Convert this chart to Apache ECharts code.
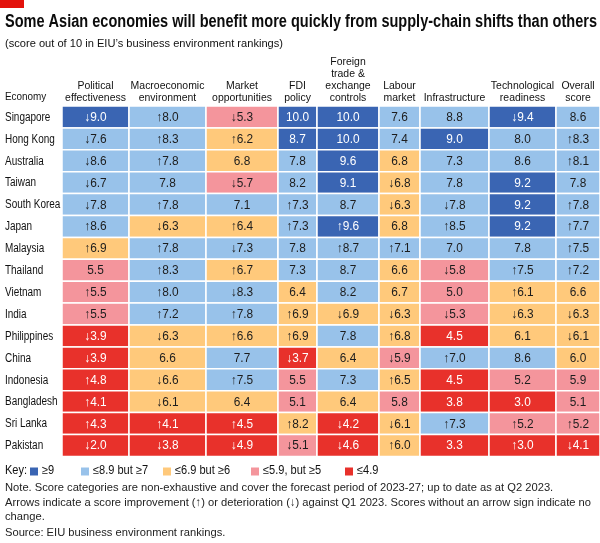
<!DOCTYPE html>
<html>
<head>
<meta charset="utf-8">
<title>Asian economies – business environment</title>
<script src="https://cdn.jsdelivr.net/npm/echarts@6/dist/echarts.min.js"></script>
<style>
    * { margin: 0; padding: 0; }
    body { background: #fff; overflow: hidden; }
    #main { width: 600px; height: 543px; }
</style>
</head>
<body>
<div id="main"></div>
<script>
    var economies = ['Singapore', 'Hong Kong', 'Australia', 'Taiwan', 'South Korea', 'Japan', 'Malaysia', 'Thailand',
        'Vietnam', 'India', 'Philippines', 'China', 'Indonesia', 'Bangladesh', 'Sri Lanka', 'Pakistan'];
    var columns = ['Political\neffectiveness', 'Macroeconomic\nenvironment', 'Market\nopportunities', 'FDI\npolicy',
        'Foreign\ntrade &\nexchange\ncontrols', 'Labour\nmarket', 'Infrastructure', 'Technological\nreadiness', 'Overall\nscore'];

    // one row per economy, same order as columns
    var scores = [
        [9.0, 8.0, 5.3, 10.0, 10.0, 7.6, 8.8, 9.4, 8.6],
        [7.6, 8.3, 6.2, 8.7, 10.0, 7.4, 9.0, 8.0, 8.3],
        [8.6, 7.8, 6.8, 7.8, 9.6, 6.8, 7.3, 8.6, 8.1],
        [6.7, 7.8, 5.7, 8.2, 9.1, 6.8, 7.8, 9.2, 7.8],
        [7.8, 7.8, 7.1, 7.3, 8.7, 6.3, 7.8, 9.2, 7.8],
        [8.6, 6.3, 6.4, 7.3, 9.6, 6.8, 8.5, 9.2, 7.7],
        [6.9, 7.8, 7.3, 7.8, 8.7, 7.1, 7.0, 7.8, 7.5],
        [5.5, 8.3, 6.7, 7.3, 8.7, 6.6, 5.8, 7.5, 7.2],
        [5.5, 8.0, 8.3, 6.4, 8.2, 6.7, 5.0, 6.1, 6.6],
        [5.5, 7.2, 7.8, 6.9, 6.9, 6.3, 5.3, 6.3, 6.3],
        [3.9, 6.3, 6.6, 6.9, 7.8, 6.8, 4.5, 6.1, 6.1],
        [3.9, 6.6, 7.7, 3.7, 6.4, 5.9, 7.0, 8.6, 6.0],
        [4.8, 6.6, 7.5, 5.5, 7.3, 6.5, 4.5, 5.2, 5.9],
        [4.1, 6.1, 6.4, 5.1, 6.4, 5.8, 3.8, 3.0, 5.1],
        [4.3, 4.1, 4.5, 8.2, 4.2, 6.1, 7.3, 5.2, 5.2],
        [2.0, 3.8, 4.9, 5.1, 4.6, 6.0, 3.3, 3.0, 4.1]
    ];
    // u = improved, d = deteriorated, '' = no change (vs Q1 2023)
    var changes = [
        ['d', 'u', 'd', '', '', '', '', 'd', ''],
        ['d', 'u', 'u', '', '', '', '', '', 'u'],
        ['d', 'u', '', '', '', '', '', '', 'u'],
        ['d', '', 'd', '', '', 'd', '', '', ''],
        ['d', 'u', '', 'u', '', 'd', 'd', '', 'u'],
        ['u', 'd', 'u', 'u', 'u', '', 'u', '', 'u'],
        ['u', 'u', 'd', '', 'u', 'u', '', '', 'u'],
        ['', 'u', 'u', '', '', '', 'd', 'u', 'u'],
        ['u', 'u', 'd', '', '', '', '', 'u', ''],
        ['u', 'u', 'u', 'u', 'd', 'd', 'd', 'd', 'd'],
        ['d', 'd', 'u', 'u', '', 'u', '', '', 'd'],
        ['d', '', '', 'd', '', 'd', 'u', '', ''],
        ['u', 'd', 'u', '', '', 'u', '', '', ''],
        ['u', 'd', '', '', '', '', '', '', ''],
        ['u', 'u', 'u', 'u', 'd', 'd', 'u', 'u', 'u'],
        ['d', 'd', 'd', 'd', 'd', 'u', '', 'u', 'd']
    ];
    var bandLabels = ['≥9', '≤8.9 but ≥7', '≤6.9 but ≥6', '≤5.9, but ≥5', '≤4.9'];
    // cells the source shades differently from what their score says: [economy, column, band]
    var bandOverrides = [['Hong Kong', 3, 0], ['Taiwan', 0, 1], ['Sri Lanka', 3, 2]];

    var bandColours = ['#3a65b3', '#98c2ea', '#ffc97b', '#f4959c', '#e8312b'];
    var FONT = "'Liberation Sans', Arial, sans-serif";
    var gridLeft = 62, gridTop = 106;
    var colWidths = [67, 77, 72, 39, 62, 41, 69, 67, 44];
    var colEdges = [0];
    colWidths.forEach(function (w, i) { colEdges.push(colEdges[i] + w); });
    var keyX = [30, 81, 163, 251, 345];

    function bandOf(v) {
        if (v >= 9) return 0;
        if (v >= 7) return 1;
        if (v >= 6) return 2;
        if (v >= 5) return 3;
        return 4;
    }

    var cells = [];
    scores.forEach(function (row, r) {
        row.forEach(function (v, c) {
            var band = bandOf(v);
            bandOverrides.forEach(function (o) {
                if (o[0] === economies[r] && o[1] === c) band = o[2];
            });
            var ch = changes[r][c] === 'u' ? 1 : (changes[r][c] === 'd' ? -1 : 0);
            cells.push([c, r, v, band, ch]);
        });
    });

    function renderCell(params, api) {
        var col = api.value(0), row = api.value(1);
        var a = api.coord([colEdges[col], row]);
        var b = api.coord([colEdges[col + 1], row]);
        var h = api.size([0, 1])[1];
        var band = api.value(3), ch = api.value(4);
        var label = (ch > 0 ? '↑' : (ch < 0 ? '↓' : '')) + api.value(2).toFixed(1);
        return {
            type: 'group',
            children: [{
                type: 'rect',
                shape: { x: a[0], y: a[1] - h / 2, width: b[0] - a[0], height: h },
                style: { fill: bandColours[band], stroke: '#fff', lineWidth: 1.5 }
            }, {
                type: 'text',
                x: (a[0] + b[0]) / 2, y: a[1] + 0.5, scaleX: 0.95,
                style: {
                    text: label,
                    fill: (band === 0 || band === 4) ? '#fff' : '#1d1d1d',
                    fontSize: 12.5, fontFamily: FONT, align: 'center', verticalAlign: 'middle'
                }
            }]
        };
    }

    // economy names down the left, placed on the category axis rows
    function renderRowName(params, api) {
        var p = api.coord([0, api.value(1)]);
        return {
            type: 'text',
            x: 5, y: p[1] + 0.5, scaleX: 0.83,
            style: {
                text: economies[api.value(1)], fill: '#111',
                fontSize: 12, fontFamily: FONT, align: 'left', verticalAlign: 'middle'
            }
        };
    }

    // squeeze a line of text to a given width (the source uses a condensed face)
    var measureCtx = document.createElement('canvas').getContext('2d');
    function squeeze(text, size, weight, width) {
        measureCtx.font = weight + ' ' + size + 'px ' + FONT;
        return Math.min(1, width / measureCtx.measureText(text).width);
    }
    function textEl(x, y, text, size, weight, sx, extra) {
        var style = { text: text, fontSize: size, fontWeight: weight, fontFamily: FONT, fill: '#111', verticalAlign: 'top' };
        for (var k in extra || {}) style[k] = extra[k];
        return { type: 'text', x: x, y: y, scaleX: sx, style: style };
    }

    var titleText = 'Some Asian economies will benefit more quickly from supply-chain shifts than others';
    var subText = '(score out of 10 in EIU’s business environment rankings)';
    var notes = [
        'Note. Score categories are non-exhaustive and cover the forecast period of 2023-27; up to date as at Q2 2023.',
        'Arrows indicate a score improvement (↑) or deterioration (↓) against Q1 2023. Scores without an arrow sign indicate no',
        'change.'
    ];
    var noteScale = squeeze(notes[1], 11.5, 'normal', 586);

    var graphics = [
        { type: 'rect', x: 0, y: 0, shape: { width: 24, height: 8 }, style: { fill: '#e3120b' } },
        textEl(5, 13, titleText, 17.5, 'bold', squeeze(titleText, 17.5, 'bold', 592), { fill: '#0c0c0c' }),
        textEl(5, 38, subText, 11.5, 'normal', squeeze(subText, 11.5, 'normal', 278)),
        textEl(5, 91.5, 'Economy', 11, 'normal', 0.9)
    ];
    columns.forEach(function (name, i) {
        graphics.push({
            type: 'text',
            x: gridLeft + (colEdges[i] + colEdges[i + 1]) / 2,
            y: 103.5, scaleX: 0.95,
            style: {
                text: name, fontSize: 11, lineHeight: 11.8, fontFamily: FONT, fill: '#111',
                align: 'center', verticalAlign: 'bottom'
            }
        });
    });

    // key
    graphics.push(textEl(5, 465, 'Key:', 12, 'normal', 0.92));
    bandLabels.forEach(function (l, i) {
        graphics.push({ type: 'rect', x: keyX[i], y: 467.5, shape: { width: 8, height: 8 }, style: { fill: bandColours[i] } });
        graphics.push(textEl(keyX[i] + 12, 465, l, 12, 'normal', 0.92));
    });
    graphics.push(textEl(5, 481, notes.join('\n'), 11.5, 'normal', noteScale, { lineHeight: 14.5, fill: '#222' }));
    graphics.push(textEl(5, 526.5, 'Source: EIU business environment rankings.', 11.5, 'normal', noteScale, { fill: '#222' }));

    var myChart = echarts.init(document.getElementById('main'));
    var option = {
        backgroundColor: '#fff',
        animation: false,
        grid: { left: gridLeft, right: 0, top: gridTop, bottom: 543 - gridTop - 16 * 21.9 },
        xAxis: { type: 'value', min: 0, max: colEdges[colEdges.length - 1], show: false },
        yAxis: {
            type: 'category', data: economies, inverse: true,
            axisLine: { show: false }, axisTick: { show: false }, splitLine: { show: false },
            axisLabel: { show: false }
        },
        graphic: graphics,
        series: [{
            type: 'custom',
            renderItem: renderCell,
            encode: { x: 0, y: 1 },
            data: cells
        }, {
            type: 'custom',
            renderItem: renderRowName,
            encode: { x: 0, y: 1 },
            clip: false,
            data: economies.map(function (e, i) { return [0, i]; })
        }]
    };
    myChart.setOption(option);
</script>
</body>
</html>
